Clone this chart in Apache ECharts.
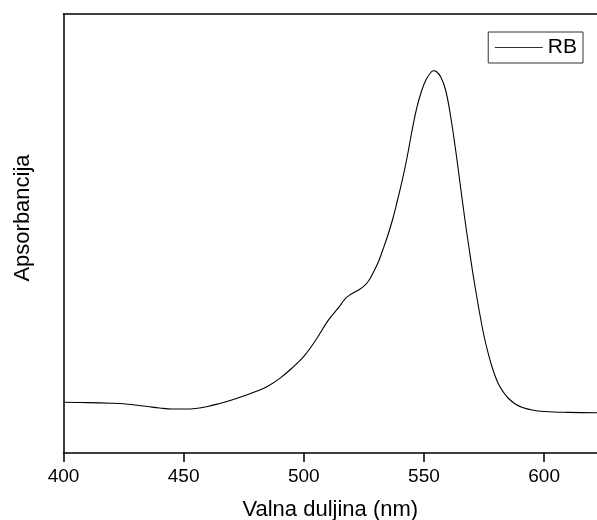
<!DOCTYPE html>
<html>
<head>
<meta charset="utf-8">
<script src="https://cdn.jsdelivr.net/npm/echarts@6/dist/echarts.min.js"></script>
<style>
html,body{margin:0;padding:0;background:#fff;overflow:hidden;}
#c{width:597px;height:520px;}
</style>
</head>
<body>
<div id="c"></div>
<script>
const wavelengths = [400,410,420,425,430,435,440,445,450,455,460,465,470,475,480,485,490,495,500,505,510,515,517,519,521,523,525,527,529,531,533,535,537,539,541,543,545,547,549,551,553,554,555,557,559,561,563,565,567,569,571,573,575,577,579,581,583,585,588,591,595,600,610,622];
const absorbance = [0.1155,0.1148,0.1134,0.1121,0.1093,0.1059,0.1025,0.1002,0.1002,0.1014,0.1059,0.1128,0.1207,0.1298,0.1401,0.1520,0.1700,0.1930,0.2200,0.2574,0.3010,0.3350,0.3500,0.3595,0.3660,0.3720,0.3800,0.3925,0.4123,0.4351,0.4647,0.4966,0.5330,0.5763,0.6219,0.6743,0.7335,0.7859,0.8246,0.8519,0.8679,0.8708,0.8695,0.8565,0.8269,0.7699,0.6970,0.6150,0.5330,0.4579,0.3872,0.3235,0.2665,0.2210,0.1845,0.1572,0.1390,0.1253,0.1116,0.1036,0.0979,0.0945,0.0925,0.0918];
const xTicks = [400,450,500,550,600];
const seriesName = 'RB';
const xTitle = 'Valna duljina (nm)';
const yTitle = 'Apsorbancija';

const FONT = '"Liberation Sans", Arial, sans-serif';
const chart = echarts.init(document.getElementById('c'), null, {renderer:'canvas'});
chart.setOption({
  backgroundColor:'#ffffff',
  animation:false,
  grid:{left:63.5, right:0, top:14, bottom:67, containLabel:false, outerBoundsMode:'none'},
  legend:{
    data:[seriesName], right:14, top:32,
    borderColor:'#333', borderWidth:1, borderRadius:0,
    padding:[5,6,5,6], itemWidth:48, itemHeight:14,
    itemStyle:{opacity:0},
    lineStyle:{color:'#333', width:1.2},
    textStyle:{fontFamily:FONT, fontSize:21, color:'#000'}
  },
  xAxis:[{
    type:'value', min:400, max:622, interval:50,
    name:xTitle, nameLocation:'middle', nameGap:46,
    nameTextStyle:{fontFamily:FONT, fontSize:22, color:'#000'},
    axisLine:{show:true, onZero:false, lineStyle:{color:'#000', width:1.5}},
    axisTick:{show:true, inside:false, length:9, customValues:xTicks, lineStyle:{color:'#000', width:1.5}},
    axisLabel:{fontFamily:FONT, fontSize:19, color:'#000', margin:14, customValues:xTicks},
    splitLine:{show:false}
  },{
    type:'value', position:'top', min:400, max:622,
    axisLine:{show:true, onZero:false, lineStyle:{color:'#000', width:1.5}},
    axisTick:{show:false}, axisLabel:{show:false}, splitLine:{show:false}
  }],
  yAxis:{
    type:'value', min:0, max:1,
    axisLine:{show:true, onZero:false, lineStyle:{color:'#000', width:1.5}},
    axisTick:{show:false}, axisLabel:{show:false}, splitLine:{show:false}
  },
  graphic:[{
    type:'text', x:23, y:218, rotation:Math.PI/2,
    style:{text:yTitle, font:'22px "Liberation Sans", Arial, sans-serif', fill:'#000', align:'center', verticalAlign:'middle'}
  }],
  series:[{
    name:seriesName, type:'line', symbol:'none', smooth:0.4,
    lineStyle:{color:'#000', width:1.1}, itemStyle:{color:'#000'},
    data: wavelengths.map((w,i)=>[w, absorbance[i]])
  }]
});
</script>
</body>
</html>
